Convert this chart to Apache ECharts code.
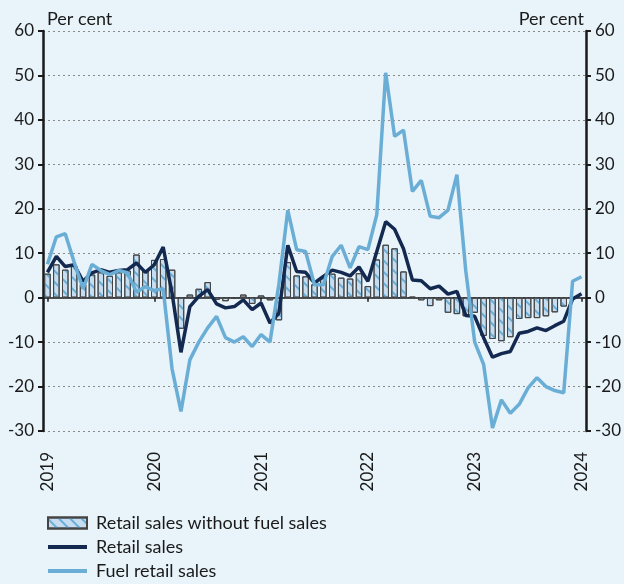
<!DOCTYPE html>
<html>
<head>
<meta charset="utf-8">
<script src="https://cdn.jsdelivr.net/npm/echarts@6/dist/echarts.min.js"></script>
<style>
  html, body { margin: 0; padding: 0; background: #e8f3fa; }
  #myChart { width: 624px; height: 584px; }
</style>
</head>
<body>
<div id="myChart"></div>
<script>
// months Jan 2019 .. Jan 2024
var months = []
for (var y = 2019; y <= 2024; y++) {
  for (var m = 1; m <= 12; m++) {
    if (y === 2024 && m > 1) break
    months.push(y + '-' + (m < 10 ? '0' + m : m))
  }
}

// Retail sales without fuel sales (bars)
var barsNoFuel = [
  5.4, 7.5, 6.3, 7.2, 3.0, 5.2, 5.7, 4.9, 5.7, 6.1, 9.7, 6.1,
  8.5, 8.7, 6.3, -7.0, 0.7, 2.0, 3.5, -0.5, -0.8, -0.3, 0.7, -1.4,
  0.5, -0.6, -5.1, 8.0, 5.0, 4.8, 3.0, 4.4, 5.4, 4.5, 4.3, 5.5,
  2.6, 8.6, 11.9, 11.1, 5.9, 0.2, -0.6, -1.9, -0.6, -3.4, -3.7, -4.2,
  -3.4, -8.6, -9.3, -9.8, -8.9, -4.8, -4.6, -4.6, -4.2, -3.3, -2.0, null,
  null
]

// Retail sales
var retail = [
  5.7, 9.3, 7.0, 7.4, 3.7, 5.6, 6.3, 5.7, 6.1, 6.3, 7.8, 5.7,
  7.4, 11.4, 1.0, -12.3, -2.0, 0.3, 1.8, -1.4, -2.3, -2.0, -0.5, -2.7,
  -1.2, -5.7, -3.5, 11.8, 5.9, 5.7, 3.3, 4.8, 6.2, 5.7, 4.9, 6.9,
  3.7, 10.4, 17.1, 15.4, 11.0, 4.0, 3.8, 2.0, 2.6, 0.8, 1.4, -4.0,
  -4.2, -9.0, -13.4, -12.6, -12.1, -8.0, -7.6, -6.8, -7.4, -6.3, -5.3, -0.3,
  0.9
]

// Fuel retail sales
var fuel = [
  7.5, 13.7, 14.4, 8.0, 2.0, 7.5, 6.1, 5.2, 6.1, 5.6, 1.2, 2.5,
  1.6, 2.0, -16.0, -25.6, -14.0, -10.0, -6.8, -4.2, -9.0, -10.0, -8.8, -11.0,
  -8.3, -10.0, 3.0, 19.7, 10.8, 10.4, 2.9, 2.9, 9.3, 11.8, 6.7, 11.5,
  10.8, 18.7, 50.6, 36.3, 37.7, 23.9, 26.4, 18.3, 18.0, 19.7, 27.7, 6.0,
  -10.0, -15.0, -29.3, -23.0, -26.0, -24.0, -20.3, -18.0, -20.0, -20.9, -21.4, 3.7,
  4.7
]

var yTicks = { min: -30, max: 60, interval: 10 }

var fontName = 'Lato'
var textColor = '#1a1a1a'
var navy = '#14294f'
var lightBlue = '#6aaed6'
// thin bar used as legend icon for the two lines
var lineIcon = 'path://M0,0 L40,0 L40,4 L0,4 Z'

var yearOnly = function (index) { return index % 12 === 0 }

var myChart = echarts.init(document.getElementById('myChart'))

var yAxisBase = {
  type: 'value',
  min: yTicks.min,
  max: yTicks.max,
  interval: yTicks.interval,
  name: 'Per cent',
  nameLocation: 'end',
  nameGap: 3,
  axisLine: { show: true, lineStyle: { color: '#1a1a1a', width: 2.5 } },
  axisTick: { show: true, length: 5, lineStyle: { color: '#1a1a1a', width: 2 } },
  axisLabel: { color: textColor, fontFamily: fontName, fontSize: 17, margin: 9 },
  splitLine: { show: false }
}

myChart.setOption({
  backgroundColor: '#e8f3fa',
  animation: false,
  grid: { left: 43, right: 37, top: 31, bottom: 153 },
  legend: {
    orient: 'vertical',
    left: 47,
    top: 513,
    padding: 0,
    itemWidth: 39,
    itemHeight: 11,
    itemGap: 4,
    textStyle: { color: textColor, fontFamily: fontName, fontSize: 18, lineHeight: 20, padding: [0, 0, 0, 4] },
    data: [
      { name: 'Retail sales without fuel sales', icon: 'rect' },
      { name: 'Retail sales', icon: lineIcon },
      { name: 'Fuel retail sales', icon: lineIcon }
    ]
  },
  xAxis: [
    {
      // axis line on zero with year ticks
      type: 'category',
      data: months,
      boundaryGap: true,
      position: 'bottom',
      axisLine: { onZero: true, lineStyle: { color: '#1a1a1a', width: 1.5 } },
      axisTick: { show: true, interval: yearOnly, alignWithLabel: true, length: 4, lineStyle: { color: '#1a1a1a', width: 1.5 } },
      axisLabel: { show: false },
      splitLine: { show: false }
    },
    {
      // year labels at the bottom
      type: 'category',
      data: months,
      boundaryGap: true,
      position: 'bottom',
      axisLine: { show: false, onZero: false },
      axisTick: { show: false },
      axisLabel: {
        interval: yearOnly,
        rotate: 90,
        margin: 21,
        color: textColor,
        fontFamily: fontName,
        fontSize: 17,
        formatter: function (v) { return v.slice(0, 4) }
      }
    }
  ],
  yAxis: [
    Object.assign({}, yAxisBase, {
      position: 'left',
      nameTextStyle: { color: textColor, fontFamily: fontName, fontSize: 18, align: 'left', padding: [0, 0, 0, 4] },
      splitLine: { show: true, lineStyle: { color: '#8a8a8a', width: 1.2, type: [2, 3] } }
    }),
    Object.assign({}, yAxisBase, {
      position: 'right',
      nameTextStyle: { color: textColor, fontFamily: fontName, fontSize: 18, align: 'right', padding: [0, 2, 0, 0] }
    })
  ],
  series: [
    {
      name: 'Retail sales without fuel sales',
      type: 'bar',
      data: barsNoFuel,
      barWidth: 6.5,
      itemStyle: {
        color: '#c6ddf1',
        borderColor: '#444',
        borderWidth: 1,
        decal: {
          symbol: 'rect',
          symbolSize: 1,
          color: lightBlue,
          dashArrayX: [1, 0],
          dashArrayY: [2, 6],
          rotation: Math.PI / 4
        }
      }
    },
    {
      name: 'Retail sales',
      type: 'line',
      data: retail,
      symbol: 'none',
      lineStyle: { color: navy, width: 3.5 },
      itemStyle: { color: navy }
    },
    {
      name: 'Fuel retail sales',
      type: 'line',
      data: fuel,
      symbol: 'none',
      lineStyle: { color: lightBlue, width: 3.5 },
      itemStyle: { color: lightBlue }
    }
  ]
})
window.onresize = myChart.resize
</script>
</body>
</html>
